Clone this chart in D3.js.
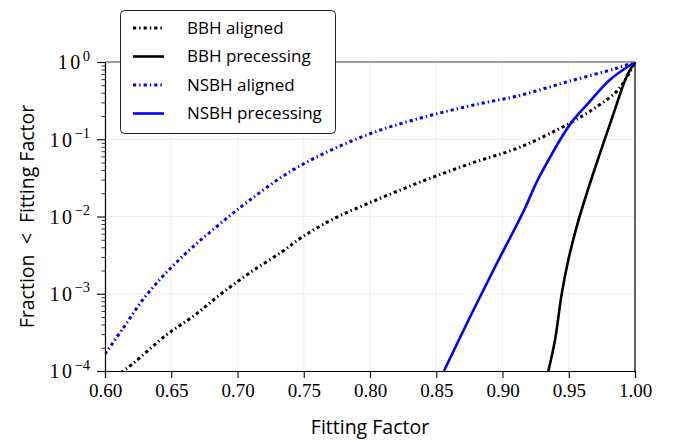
<!DOCTYPE html>
<html>
<head>
<meta charset="utf-8">
<script src="https://cdn.jsdelivr.net/npm/d3@7"></script>
<style>
  body { margin: 0; background: #fff; }
  svg { display: block; }
</style>
</head>
<body>
<div id="chart"></div>
<script>
// Cumulative fraction of signals below a given fitting factor
const bbhAlignedFF = [0.612, 0.6214, 0.646, 0.6672, 0.6883, 0.7109, 0.7336, 0.7487, 0.7723, 0.807, 0.8415, 0.8767, 0.9132, 0.9497, 0.9711, 0.9862, 0.9937, 1.00];
const bbhAlignedFrac = [9.5e-5, 1.26e-4, 2.9e-4, 5.2e-4, 1.02e-3, 1.95e-3, 3.5e-3, 5.4e-3, 9.3e-3, 1.7e-2, 2.95e-2, 4.9e-2, 7.9e-2, 0.158, 0.263, 0.417, 0.63, 1.0];

const bbhPrecFF = [0.9346, 0.9396, 0.9447, 0.9497, 0.956, 0.9636, 0.9736, 0.9836, 0.9937, 1.00];
const bbhPrecFrac = [1.0e-4, 2.5e-4, 1.0e-3, 2.75e-3, 7.4e-3, 2.0e-2, 6.6e-2, 0.21, 0.65, 1.0];

const nsbhAlignedFF = [0.60, 0.6138, 0.6284, 0.646, 0.6659, 0.6863, 0.7082, 0.7396, 0.7718, 0.8063, 0.8415, 0.8772, 0.9132, 0.9497, 0.9862, 1.00];
const nsbhAlignedFrac = [1.66e-4, 3.6e-4, 8.3e-4, 1.86e-3, 3.98e-3, 7.9e-3, 1.58e-2, 3.8e-2, 7.4e-2, 0.129, 0.195, 0.275, 0.37, 0.56, 0.83, 1.0];

const nsbhPrecFF = [0.8558, 0.8755, 0.8956, 0.9157, 0.9258, 0.9334, 0.9459, 0.9535, 0.966, 0.9811, 1.00];
const nsbhPrecFrac = [1.0e-4, 5.0e-4, 2.45e-3, 1.15e-2, 2.8e-2, 4.9e-2, 0.115, 0.178, 0.31, 0.59, 1.0];

const xTicks = [0.60, 0.65, 0.70, 0.75, 0.80, 0.85, 0.90, 0.95, 1.00];
const yTicks = [1e-4, 1e-3, 1e-2, 1e-1, 1e0];

const seriesNames = ["BBH aligned", "BBH precessing", "NSBH aligned", "NSBH precessing"];

const width = 681, height = 441;
const margin = {top: 62, right: 46, bottom: 70, left: 105};
const innerW = width - margin.left - margin.right;
const innerH = height - margin.top - margin.bottom;

const ALIGNED_DASH = "3.2,3,1.4,3";

const series = [
    {name: seriesNames[0], ff: bbhAlignedFF, frac: bbhAlignedFrac, color: "#000", dash: ALIGNED_DASH, w: 3},
    {name: seriesNames[1], ff: bbhPrecFF, frac: bbhPrecFrac, color: "#000", dash: null, w: 2.6},
    {name: seriesNames[2], ff: nsbhAlignedFF, frac: nsbhAlignedFrac, color: "#0000ff", dash: ALIGNED_DASH, w: 3},
    {name: seriesNames[3], ff: nsbhPrecFF, frac: nsbhPrecFrac, color: "#0000ff", dash: null, w: 2.6}
];

const svg = d3.select("#chart")
    .append("svg")
    .attr("width", width)
    .attr("height", height);

const g = svg.append("g")
    .attr("transform", `translate(${margin.left},${margin.top})`);

const x = d3.scaleLinear().domain([0.60, 1.00]).range([0, innerW]);
const y = d3.scaleLog().domain([1e-4, 1]).range([innerH, 0]);

// grid
g.append("g")
    .selectAll("line.vgrid")
    .data(xTicks)
    .join("line")
    .attr("x1", d => x(d)).attr("x2", d => x(d))
    .attr("y1", 0).attr("y2", innerH)
    .attr("stroke", "#ebebeb").attr("stroke-width", 0.8);

g.append("g")
    .selectAll("line.hgrid")
    .data(yTicks)
    .join("line")
    .attr("x1", 0).attr("x2", innerW)
    .attr("y1", d => y(d)).attr("y2", d => y(d))
    .attr("stroke", "#ebebeb").attr("stroke-width", 0.8);

// clip
svg.append("defs").append("clipPath").attr("id", "plotClip")
    .append("rect").attr("x", 0).attr("y", -2).attr("width", innerW + 2).attr("height", innerH + 2);

const line = d3.line()
    .x(d => x(d[0]))
    .y(d => y(d[1]))
    .curve(d3.curveCatmullRom.alpha(0.5));

const lines = g.append("g").attr("clip-path", "url(#plotClip)");
series.forEach(s => {
    lines.append("path")
        .datum(s.ff.map((v, i) => [v, s.frac[i]]))
        .attr("d", line)
        .attr("fill", "none")
        .attr("stroke", s.color)
        .attr("stroke-width", s.w)
        .attr("stroke-dasharray", s.dash);
});

// spines
g.append("line").attr("x1", 0).attr("x2", innerW).attr("y1", 0).attr("y2", 0)
    .attr("stroke", "#808080").attr("stroke-width", 1.6);
g.append("line").attr("x1", innerW).attr("x2", innerW).attr("y1", 0).attr("y2", innerH)
    .attr("stroke", "#000").attr("stroke-width", 1.2);

// x axis
const xAxis = g.append("g")
    .attr("transform", `translate(0,${innerH})`)
    .call(d3.axisBottom(x).tickValues(xTicks).tickFormat(d3.format(".2f")).tickSize(7).tickPadding(6));
xAxis.select(".domain").attr("stroke-width", 1.2);
xAxis.selectAll(".tick line").attr("stroke-width", 1.1);
xAxis.selectAll("text")
    .attr("font-family", "'Liberation Serif', 'DejaVu Serif', serif")
    .attr("font-size", 19)
    .attr("fill", "#000");

// y axis (major + minor)
const minorTicks = [];
for (let e = -4; e < 0; e++) {
    for (let m = 2; m <= 9; m++) minorTicks.push(m * Math.pow(10, e));
}
const yMinor = g.append("g")
    .call(d3.axisLeft(y).tickValues(minorTicks).tickFormat("").tickSize(3.5));
yMinor.select(".domain").remove();
yMinor.selectAll(".tick line").attr("stroke-width", 0.8);

const yAxis = g.append("g")
    .call(d3.axisLeft(y).tickValues(yTicks).tickFormat("").tickSize(8).tickSizeOuter(0));
yAxis.select(".domain").attr("stroke-width", 1.2);
yAxis.selectAll(".tick line").attr("stroke-width", 1.1);
yAxis.selectAll(".tick").each(function(d) {
    const exp = Math.round(Math.log10(d));
    const t = d3.select(this).append("text")
        .attr("x", -15)
        .attr("dy", "0.34em")
        .attr("text-anchor", "end")
        .attr("fill", "#000")
        .attr("font-family", "'Liberation Serif', 'DejaVu Serif', serif")
        .attr("font-size", 20);
    t.append("tspan").attr("letter-spacing", 2.5).text("10");
    t.append("tspan")
        .attr("font-size", 14.5)
        .attr("dy", "-0.6em")
        .text(exp === 0 ? "0" : "\u2212" + Math.abs(exp));
});

// axis labels
const SANS = "'Open Sans', 'DejaVu Sans', sans-serif";
svg.append("text")
    .attr("x", margin.left + innerW / 2)
    .attr("y", 434)
    .attr("text-anchor", "middle")
    .attr("font-family", SANS)
    .attr("font-size", 19.5)
    .attr("fill", "#000")
    .text("Fitting Factor");

svg.append("text")
    .attr("transform", `translate(34,${margin.top + innerH / 2}) rotate(-90)`)
    .attr("text-anchor", "middle")
    .attr("font-family", SANS)
    .attr("font-size", 19.5)
    .attr("fill", "#000")
    .attr("xml:space", "preserve")
    .text("Fraction  <  Fitting Factor");

// legend
const legend = svg.append("g").attr("transform", "translate(120,10)");
legend.append("rect")
    .attr("x", 0.5).attr("y", 0.5)
    .attr("width", 215).attr("height", 123)
    .attr("rx", 4)
    .attr("fill", "#fff")
    .attr("stroke", "#222")
    .attr("stroke-width", 1);

series.forEach((s, i) => {
    const cy = 18 + i * 28.5;
    legend.append("line")
        .attr("x1", 13).attr("x2", 44)
        .attr("y1", cy).attr("y2", cy)
        .attr("stroke", s.color)
        .attr("stroke-width", s.w)
        .attr("stroke-dasharray", s.dash);
    legend.append("text")
        .attr("x", 67).attr("y", cy)
        .attr("dy", "0.35em")
        .attr("font-family", SANS)
        .attr("font-size", 17)
        .attr("fill", "#000")
        .text(s.name);
});
</script>
</body>
</html>
